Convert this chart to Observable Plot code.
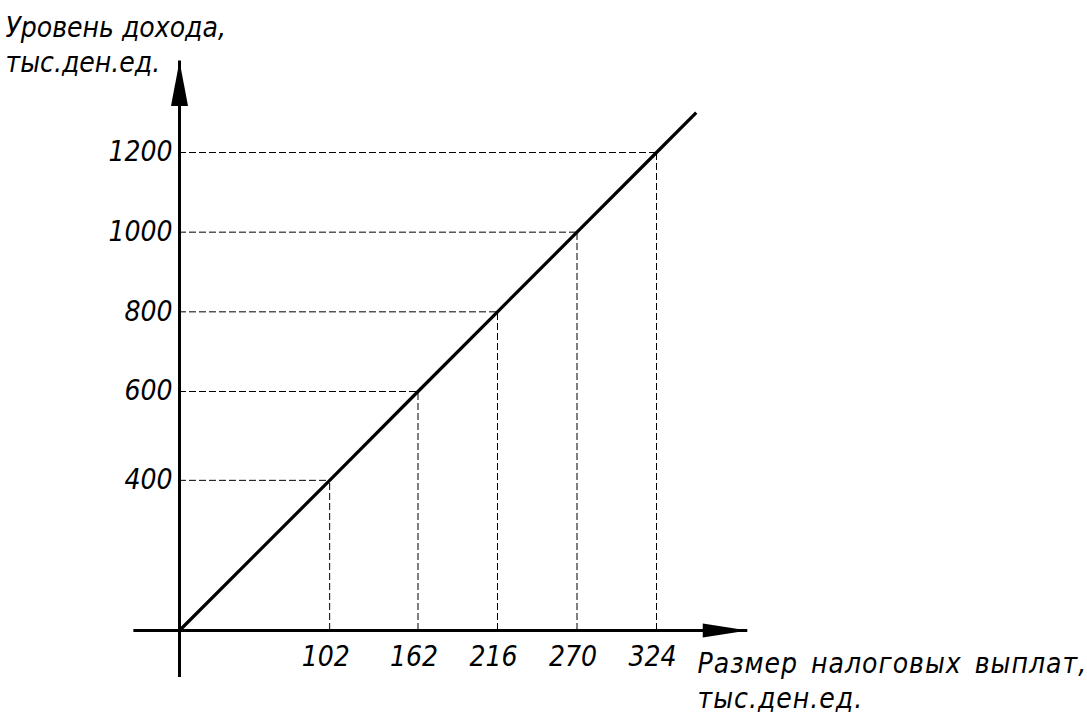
<!DOCTYPE html>
<html>
<head>
<meta charset="utf-8">
<script src="https://cdn.jsdelivr.net/npm/d3@7"></script>
<script src="https://cdn.jsdelivr.net/npm/@observablehq/plot@0.6"></script>
<style>
  html, body { margin: 0; padding: 0; background: #fff; }
  svg text { font-family: "Liberation Sans Narrow", "DejaVu Sans Condensed", sans-serif; font-style: italic; }
  svg .xtitle text { letter-spacing: 1px; word-spacing: 4px; }
</style>
</head>
<body>
<div id="chart"></div>
<script>
// Data
const taxPayments = [102, 162, 216, 270, 324];      // x: размер налоговых выплат
const incomeLevels = [400, 600, 800, 1000, 1200];   // y: уровень дохода
const lineX = [0, 102, 162, 216, 270, 324, 351];    // main line incl. origin and extension
const lineY = [0, 400, 600, 800, 1000, 1200, 1300];
// the drawing is schematic: the 400 tick sits where ~377 would be on a uniform axis
const yTickValues = [0, 400, 600, 800, 1000, 1200];
const yTickDrawnAt = [0, 377, 600, 800, 1000, 1200];
const xAxisExtent = [-31, 386];
const yAxisExtent = [-125, 1430];
const xTitle = "Размер налоговых выплат,\nтыс.ден.ед.";
const yTitle = "Уровень дохода,\nтыс.ден.ед.";

const points = taxPayments.map((x, i) => ({x, y: incomeLevels[i]}));
const linePts = lineX.map((x, i) => ({x, y: lineY[i]}));
const yWarp = d3.scaleLinear().domain(yTickValues).range(yTickDrawnAt);

const arrowUp = (len, half) => ({
  draw(ctx) { ctx.moveTo(0, 0); ctx.lineTo(half, len); ctx.lineTo(-half, len); ctx.closePath(); }
});

const chart = Plot.plot({
  width: 1087,
  height: 717,
  margin: 0,
  x: {domain: [0, 324], range: [179, 656], axis: null},
  y: {domain: [0, 1200], range: [630, 152], transform: v => yWarp(v), axis: null},
  marks: [
    // dashed guide lines
    Plot.ruleY(points, {y: "y", x1: 0, x2: "x", stroke: "#000", strokeWidth: 1, strokeDasharray: "7,3"}),
    Plot.ruleX(points, {x: "x", y1: 0, y2: "y", stroke: "#000", strokeWidth: 1, strokeDasharray: "7,3"}),
    // axes
    Plot.ruleY([0], {x1: xAxisExtent[0], x2: xAxisExtent[1], stroke: "#000", strokeWidth: 3}),
    Plot.ruleX([0], {y1: yAxisExtent[0], y2: yAxisExtent[1], stroke: "#000", strokeWidth: 3}),
    Plot.dot([{x: xAxisExtent[1], y: 0}], {x: "x", y: "y", symbol: arrowUp(45, 7), rotate: 90, fill: "#000", stroke: "none"}),
    Plot.dot([{x: 0, y: yAxisExtent[1]}], {x: "x", y: "y", symbol: arrowUp(45, 8.5), fill: "#000", stroke: "none"}),
    // main line
    Plot.line(linePts, {x: "x", y: "y", stroke: "#000", strokeWidth: 3.2, strokeLinecap: "butt"}),
    // tick labels
    Plot.text(points, {x: 0, y: "y", text: d => String(d.y), textAnchor: "end", dx: -7, fontSize: 28, fill: "#000"}),
    Plot.text(points, {x: "x", y: 0, text: d => String(d.x), textAnchor: "middle", dx: -4, dy: 27, fontSize: 28, fill: "#000"}),
    // axis titles
    Plot.text([yTitle], {frameAnchor: "top-left", text: d => d, textAnchor: "start", lineAnchor: "top", dx: 5, dy: 12, fontSize: 28, lineHeight: 1.25, fill: "#000"}),
    Plot.text([xTitle], {frameAnchor: "top-left", text: d => d, textAnchor: "start", lineAnchor: "top", dx: 697, dy: 648, fontSize: 28, lineHeight: 1.25, fill: "#000", className: "xtitle"})
  ]
});
document.getElementById("chart").appendChild(chart);
</script>
</body>
</html>
